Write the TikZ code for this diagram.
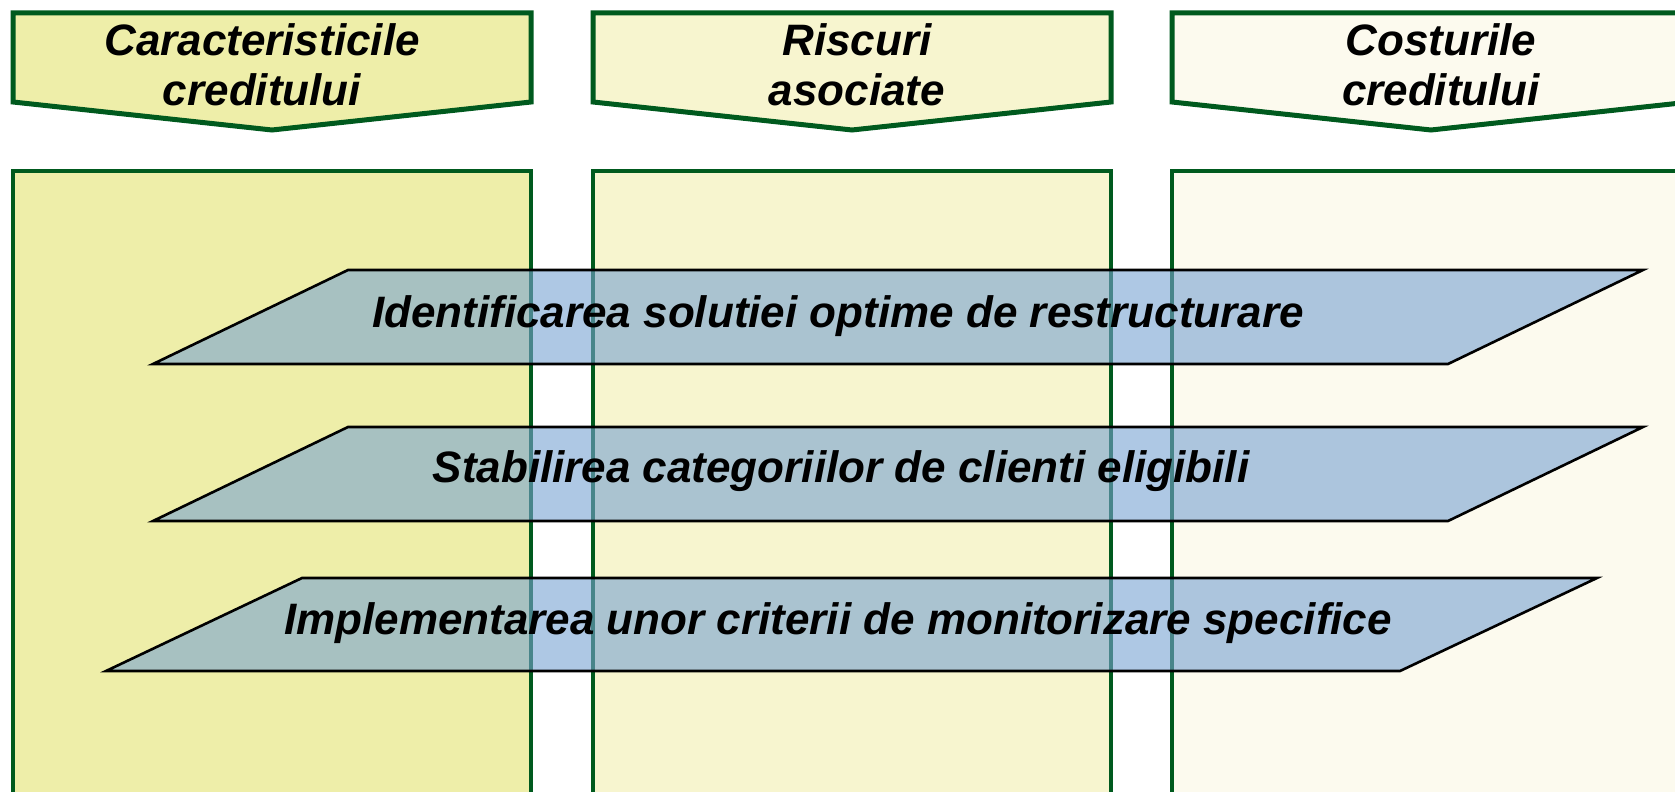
\documentclass[tikz,border=0pt]{standalone}
\usepackage{fontspec}
\setmainfont{Liberation Sans}
\usepackage{xcolor}

\definecolor{colA}{RGB}{238,238,169}
\definecolor{colB}{RGB}{247,245,207}
\definecolor{colC}{RGB}{252,250,238}
\definecolor{frame}{RGB}{0,90,30}
\definecolor{bandblue}{RGB}{120,163,210}

\begin{document}
\begin{tikzpicture}[x=0.5pt,y=-0.5pt,
  hdtext/.style={font=\fontsize{22}{25}\selectfont\bfseries\itshape, align=center, inner sep=0pt},
  bandtext/.style={font=\fontsize{22}{25}\selectfont\bfseries\itshape, inner sep=0pt},
  colframe/.style={draw=frame, line width=2pt},
  hdframe/.style={draw=frame, line width=2.5pt},
  band/.style={fill=bandblue, fill opacity=0.6, draw=black, line width=1.3pt}]
  \useasboundingbox (0,0) rectangle (1675,792);
  \clip (0,0) rectangle (1675,792);

  % Draw the three columns with their arrow headers
  \foreach \l/\r/\c in {13/531/colA, 593/1111/colB, 1172/1690/colC} {
    \filldraw[colframe, fill=\c] (\l,171) rectangle (\r,830);
    \filldraw[hdframe, fill=\c] (\l,13) -- (\r,13) -- (\r,102) -- ({(\l+\r)/2},130) -- (\l,102) -- cycle;
  }

  \node[hdtext] (hdCaract) at (262,65) {Caracteristicile\\creditului};
  \node[hdtext] (hdRiscuri) at (857,65) {Riscuri\\asociate};
  \node[hdtext] (hdCosturi) at (1441,65) {Costurile\\creditului};

  % Transparent bands across the columns
  \draw[band] (348,270) -- (1643,270) -- (1448,364) -- (153,364) -- cycle;
  \draw[band] (348,427) -- (1643,427) -- (1448,521) -- (153,521) -- cycle;
  \draw[band] (302,578) -- (1597,578) -- (1400,671) -- (106,671) -- cycle;

  \node[bandtext] (bandIdent) at (838,316) {Identificarea solutiei optime de restructurare};
  \node[bandtext] (bandStab) at (841,471) {Stabilirea categoriilor de clienti eligibili};
  \node[bandtext] (bandImpl) at (838,623) {Implementarea unor criterii de monitorizare specifice};
\end{tikzpicture}
\end{document}
